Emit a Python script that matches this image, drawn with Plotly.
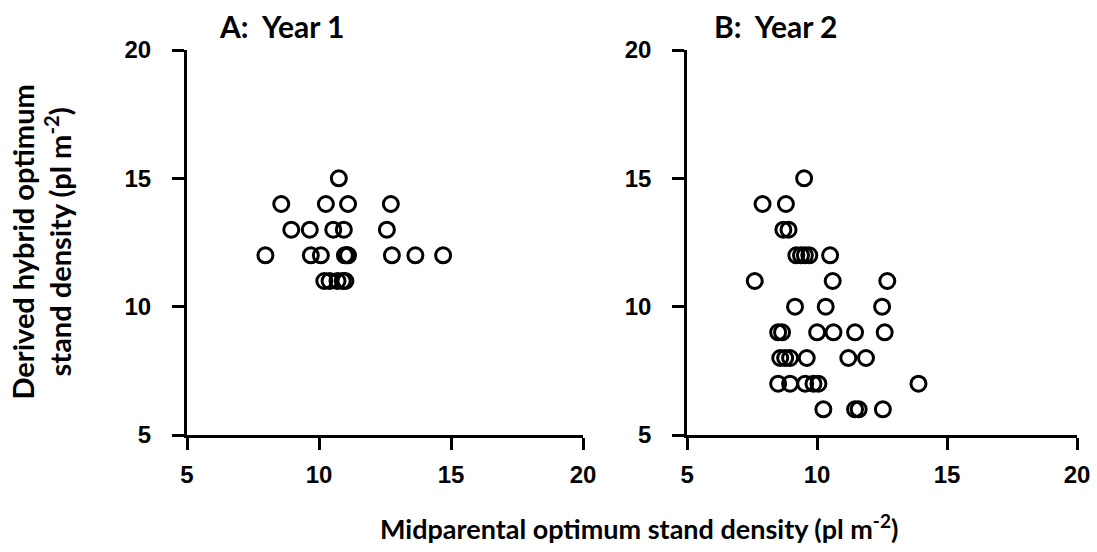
import plotly.graph_objects as go
from plotly.subplots import make_subplots

# Year 1 (panel A)
year1_x = [10.75, 8.57, 10.26, 11.10, 12.72, 8.95, 9.65, 10.54, 10.94, 12.57,
           7.97, 9.69, 10.07, 10.98, 11.05, 11.10, 12.76, 13.65, 14.70,
           10.2, 10.4, 10.7, 10.9, 11.0]
year1_y = [15, 14, 14, 14, 14, 13, 13, 13, 13, 13,
           12, 12, 12, 12, 12, 12, 12, 12, 12,
           11, 11, 11, 11, 11]

# Year 2 (panel B)
year2_x = [9.5, 7.9, 8.8, 8.7, 8.9, 9.2, 9.38, 9.53, 9.7, 10.5, 7.6, 10.6, 12.7,
           9.15, 10.33, 12.5, 8.5, 8.65, 10.0, 10.63, 11.46, 12.6,
           8.58, 8.77, 8.96, 9.6, 11.2, 11.88,
           8.5, 8.96, 9.54, 9.86, 10.05, 13.9,
           10.24, 11.46, 11.6, 12.53]
year2_y = [15, 14, 14, 13, 13, 12, 12, 12, 12, 12, 11, 11, 11,
           10, 10, 10, 9, 9, 9, 9, 9, 9,
           8, 8, 8, 8, 8, 8,
           7, 7, 7, 7, 7, 7,
           6, 6, 6, 6]

tick_vals = [5, 10, 15, 20]
panel_titles = ["A:\u00a0\u00a0Year 1", "B:\u00a0\u00a0Year 2"]
x_title = "Midparental optimum stand density (pl m<sup>-2</sup>)"
y_title = "Derived hybrid optimum<br>stand density (pl m<sup>-2</sup>)"

fig = make_subplots(rows=1, cols=2, horizontal_spacing=0.117)

marker = dict(symbol="circle-open", size=15, color="black", line=dict(width=3, color="black"))
fig.add_trace(go.Scatter(x=year1_x, y=year1_y, mode="markers", marker=marker, showlegend=False), 1, 1)
fig.add_trace(go.Scatter(x=year2_x, y=year2_y, mode="markers", marker=marker, showlegend=False), 1, 2)

tickfont = dict(family="Liberation Sans, Arial", size=24, color="black", weight="bold")
axis_common = dict(range=[5, 20], tickvals=tick_vals, showgrid=False, zeroline=False,
                   showline=True, linecolor="black", linewidth=3,
                   ticks="outside", ticklen=12, tickwidth=3, tickcolor="black",
                   tickfont=tickfont, automargin=False, ticklabeloverflow="allow")

fig.update_xaxes(**axis_common, ticklabelstandoff=4)
fig.update_yaxes(**axis_common, ticklabelposition="outside", ticklabelstandoff=16)
fig.update_xaxes(domain=[0.0, 0.445], row=1, col=1)
fig.update_xaxes(domain=[0.562, 1.0], row=1, col=2)

title_font = dict(family="Lato, Open Sans, sans-serif", size=30, color="black", weight="bold")
axis_title_font = dict(family="Lato, Open Sans, sans-serif", size=27, color="black", weight="bold")
y_title_font = dict(family="Lato, Open Sans, sans-serif", size=29, color="black", weight="bold")

annotations = [
    dict(text=panel_titles[0], xref="paper", yref="paper", x=0.0337, y=1.0, yshift=24,
         xanchor="left", yanchor="middle", showarrow=False, font=title_font),
    dict(text=panel_titles[1], xref="paper", yref="paper", x=0.59, y=1.0, yshift=24,
         xanchor="left", yanchor="middle", showarrow=False, font=title_font),
    dict(text=x_title, xref="paper", yref="paper", x=0.508, y=0, yshift=-92,
         xanchor="center", yanchor="middle", showarrow=False, font=axis_title_font),
    dict(text=y_title, xref="paper", yref="paper", x=0, y=0.5, xshift=-146,
         xanchor="center", yanchor="middle", textangle=-90, showarrow=False, font=y_title_font),
]

fig.update_layout(
    width=1097, height=552,
    margin=dict(l=187, r=20, t=50, b=117),
    paper_bgcolor="white", plot_bgcolor="white",
    annotations=annotations,
)

fig.write_html("out.html", config={"displayModeBar": False},
               post_script="document.body.style.margin='0';document.body.style.overflow='hidden';")
